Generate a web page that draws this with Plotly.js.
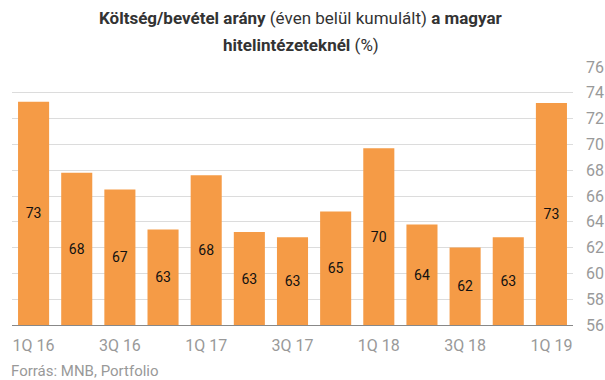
<!DOCTYPE html>
<html>
<head>
<meta charset="utf-8">
<script src="https://cdn.plot.ly/plotly-3.0.1.min.js"></script>
<style>html,body{margin:0;padding:0;background:#fff;}#chart{width:605px;height:380px;}</style>
</head>
<body>
<div id="chart"></div>
<script>
const categories = ["1Q 16","2Q 16","3Q 16","4Q 16","1Q 17","2Q 17","3Q 17","4Q 17","1Q 18","2Q 18","3Q 18","4Q 18","1Q 19"];
const values = [73.3, 67.8, 66.5, 63.4, 67.6, 63.2, 62.8, 64.8, 69.7, 63.8, 62.0, 62.8, 73.2];
const tickLabels = ["1Q 16","3Q 16","1Q 17","3Q 17","1Q 18","3Q 18","1Q 19"];
const yTicks = [56,58,60,62,64,66,68,70,72,74,76];
const titleLines = [
  '<b>Költség/bevétel arány</b> (éven belül kumulált) <b>a magyar</b>',
  '<b>hitelintézeteknél</b> (%)'
];

const trace = {
  type: 'bar',
  x: categories,
  y: values.map(v => v - 56),
  base: 56,
  marker: {color: '#F59B46'},
  text: values.map(v => Math.round(v).toString()),
  textposition: 'inside',
  insidetextanchor: 'middle',
  textangle: 0,
  textfont: {family: 'Roboto, Arial, sans-serif', size: 14, color: '#111'},
  hoverinfo: 'none',
  cliponaxis: false
};

const titleFont = {family: 'Roboto, Arial, sans-serif', size: 17, color: '#333'};

const layout = {
  width: 605, height: 380,
  margin: {l: 12, r: 32, t: 67, b: 55},
  paper_bgcolor: '#fff', plot_bgcolor: '#fff',
  bargap: 0.28,
  showlegend: false,
  font: {family: 'Roboto, Arial, sans-serif'},
  xaxis: {
    type: 'category',
    tickmode: 'array',
    tickvals: tickLabels,
    ticktext: tickLabels,
    showgrid: false,
    showline: true, linecolor: '#888', linewidth: 1,
    ticks: '',
    tickfont: {family: 'Roboto, Arial, sans-serif', size: 16, color: '#999'},
    ticklabelstandoff: 6
  },
  yaxis: {
    side: 'right',
    range: [56, 76],
    tickmode: 'array',
    tickvals: yTicks,
    ticktext: yTicks.map(String),
    showgrid: true, gridcolor: '#dcdcdc', gridwidth: 1,
    zeroline: false, showline: false,
    ticks: '',
    ticklabelstandoff: 12,
    tickfont: {family: 'Roboto, Arial, sans-serif', size: 16, color: '#999'}
  },
  annotations: [
    {text: titleLines[0], xref: 'paper', yref: 'paper', x: 0.516, y: 1.19,
     xanchor: 'center', yanchor: 'middle', showarrow: false, font: titleFont},
    {text: titleLines[1], xref: 'paper', yref: 'paper', x: 0.516, y: 1.085,
     xanchor: 'center', yanchor: 'middle', showarrow: false, font: titleFont},
    {text: 'Forrás: MNB, Portfolio',
     xref: 'paper', yref: 'paper', x: -0.005, y: -0.135,
     xanchor: 'left', yanchor: 'top', showarrow: false,
     font: {family: 'Roboto, Arial, sans-serif', size: 15, color: '#999'}}
  ]
};

Plotly.newPlot('chart', [trace], layout, {staticPlot: true, displayModeBar: false});
</script>
</body>
</html>
